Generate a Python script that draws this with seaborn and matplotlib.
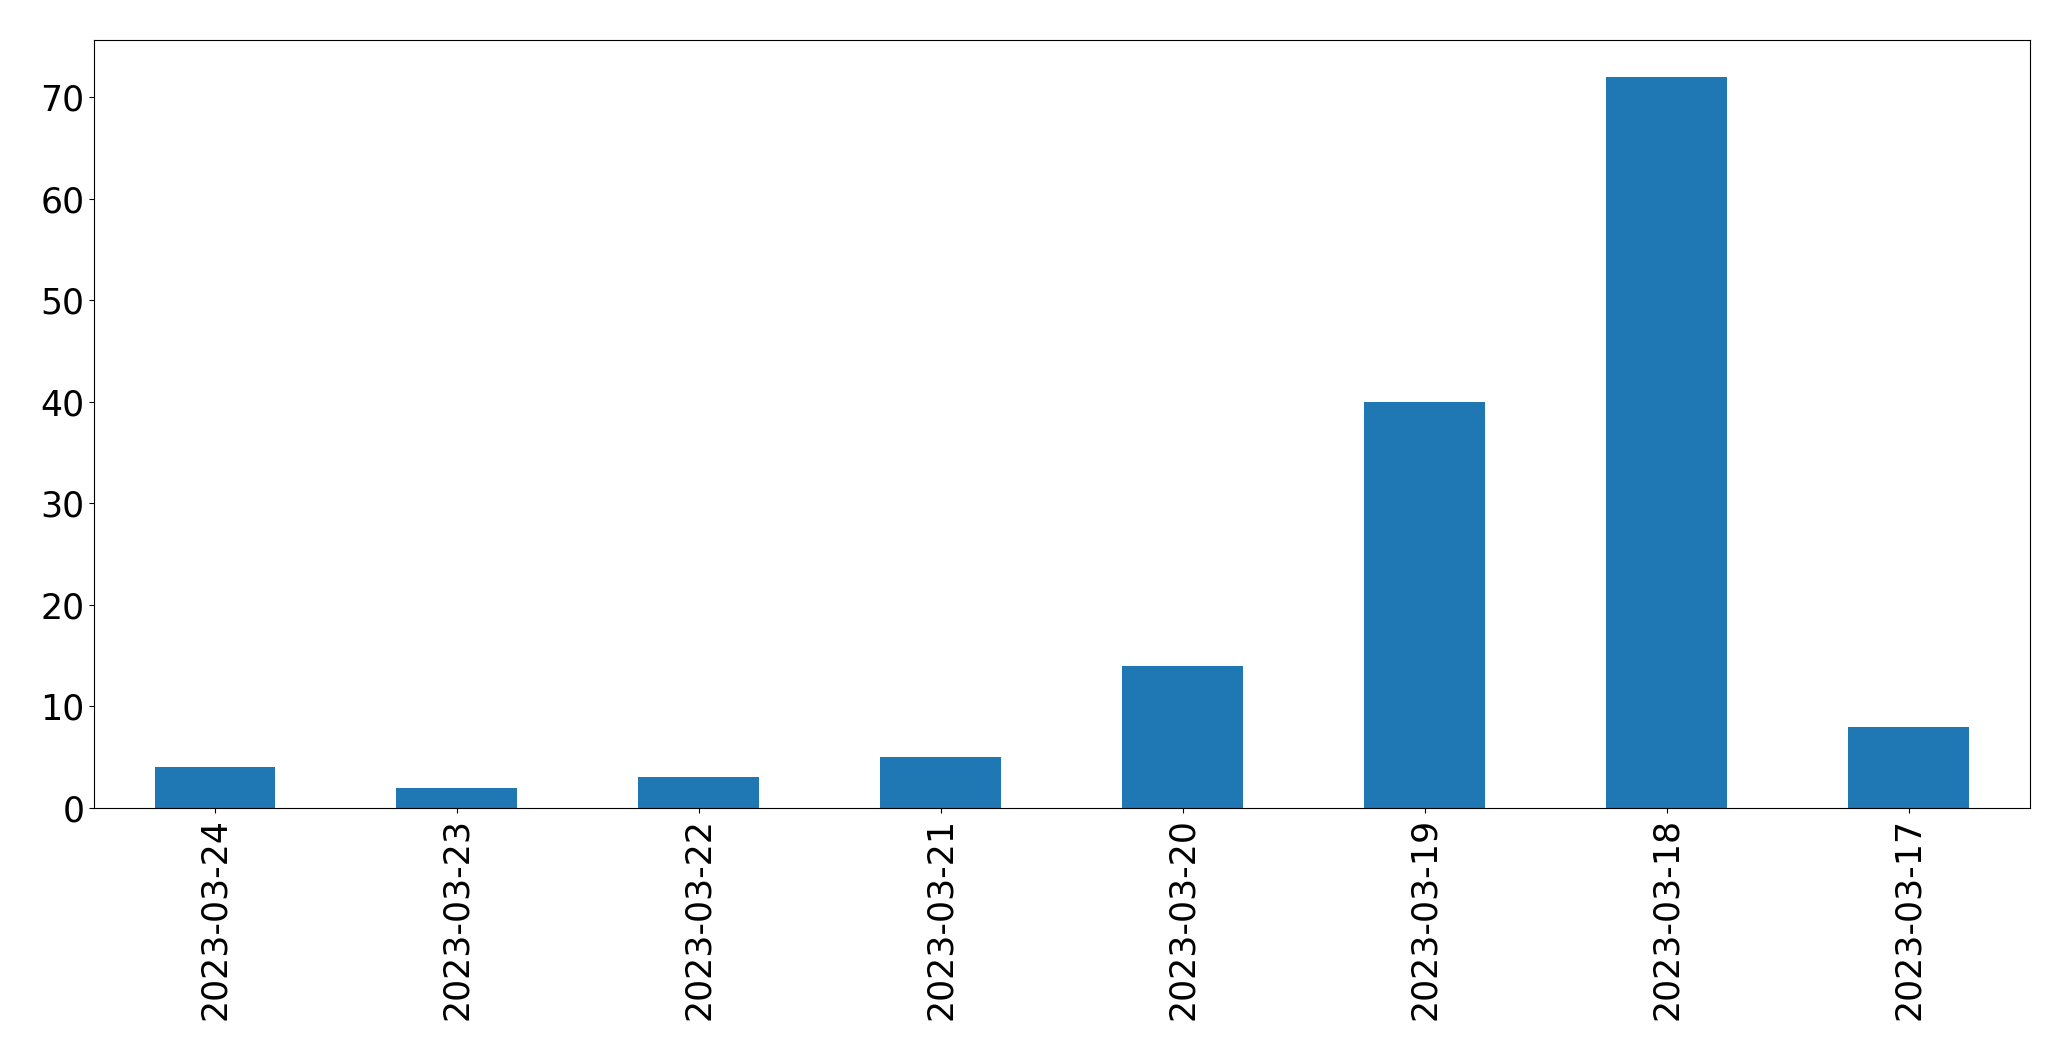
import matplotlib
matplotlib.use("Agg")
import matplotlib.pyplot as plt
import seaborn as sns
import pandas as pd

# daily counts, newest first (as in the original)
dates = ["2023-03-24", "2023-03-23", "2023-03-22", "2023-03-21",
         "2023-03-20", "2023-03-19", "2023-03-18", "2023-03-17"]
counts = [4, 2, 3, 5, 14, 40, 72, 8]

df = pd.DataFrame({"date": dates, "count": counts})

fig = plt.figure(figsize=(20.71, 10.61), dpi=100)
ax = fig.add_axes([0.0454, 0.2385, 0.9346, 0.7235])
sns.barplot(data=df, x="date", y="count", order=dates, color="#1f77b4",
            saturation=1, width=0.5, linewidth=0, ax=ax)
ax.set_xlim(-0.5, len(dates) - 0.5)
ax.set_ylim(0, max(counts) * 1.05)
ax.set_xlabel("")
ax.set_ylabel("")
for s in ax.spines.values():
    s.set_color("black")
ax.tick_params(axis="x", labelsize=25, rotation=90, colors="black")
ax.tick_params(axis="y", labelsize=25, colors="black")
fig.savefig("out.png", dpi=100)
